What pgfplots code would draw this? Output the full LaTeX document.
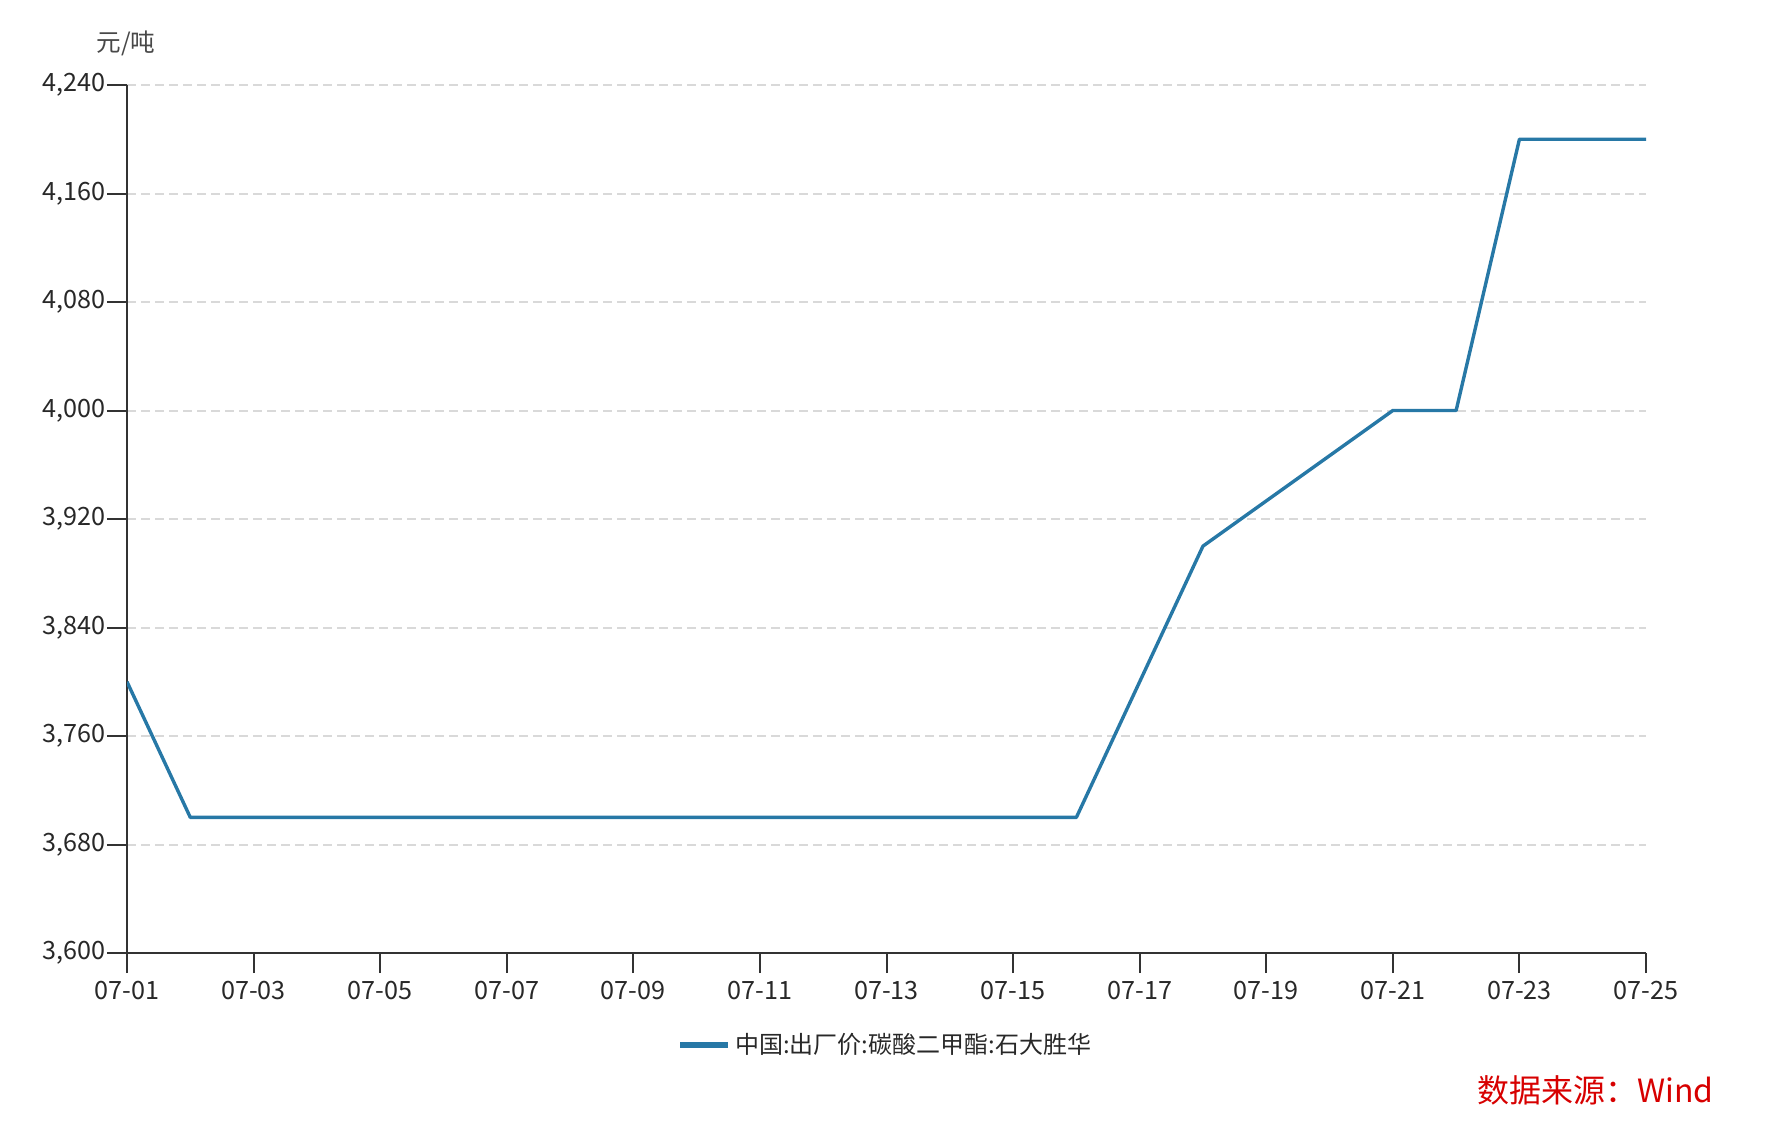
\documentclass[border=0pt]{standalone}
\usepackage{fontspec}
\setmainfont{Noto Sans CJK SC}
\usepackage{pgfplots}
\pgfplotsset{compat=1.18}
\definecolor{serblue}{RGB}{39,120,166}
\definecolor{axiscol}{RGB}{51,51,51}
\definecolor{textcol}{RGB}{40,40,40}
\definecolor{gridcol}{RGB}{217,217,217}
\definecolor{srcred}{RGB}{215,0,0}
\begin{document}
\begin{tikzpicture}[x=1pt,y=1pt]
\useasboundingbox (0,0) rectangle (886,567.5);
\begin{axis}[
  at={(63.5pt,91pt)}, anchor=south west,
  scale only axis, width=759.5pt, height=434pt,
  xmin=0, xmax=24, ymin=3600, ymax=4240,
  axis lines=left,
  axis line style={draw=axiscol, line width=1pt, -},
  xtick={0,2,...,24},
  xticklabels={07-01,07-03,07-05,07-07,07-09,07-11,07-13,07-15,07-17,07-19,07-21,07-23,07-25},
  ytick={3600,3680,...,4240},
  tick align=outside,
  major tick length=10pt,
  tick style={draw=axiscol, line width=1pt},
  ymajorgrids,
  grid style={draw=gridcol, line width=1pt, dash pattern=on 4.5pt off 2.5pt},
  scaled ticks=false,
  /pgf/number format/.cd, 1000 sep={,}, assume math mode=true,
  /pgfplots/.cd,
  ticklabel style={font=\fontsize{12.6}{14}\selectfont, text=textcol},
  yticklabel style={inner sep=0.5pt},
  xticklabel style={inner sep=1pt, yshift=-3pt},
  legend style={at={(0.5,-0.106)}, anchor=center, draw=none, fill=none,
    font=\fontsize{12}{14}\selectfont, text=textcol},
  legend image code/.code={\draw[line width=2.6pt, serblue] (-2pt,0pt) -- (22pt,0pt);},
]
\addplot[serblue, line width=1.7pt, line join=round] coordinates {
  (0,3800) (1,3700) (15,3700) (17,3900) (20,4000) (21,4000) (22,4200) (24,4200)
};
\addlegendentry{中国:出厂价:碳酸二甲酯:石大胜华}
\end{axis}
\node[text=textcol!85, font=\fontsize{12.3}{14}\selectfont] at (63,546) {元/吨};
\node[anchor=east, text=srcred, font=\fontsize{16}{18}\selectfont, inner sep=0pt] at (857,22.5) {数据来源：Wind};
\end{tikzpicture}
\end{document}
